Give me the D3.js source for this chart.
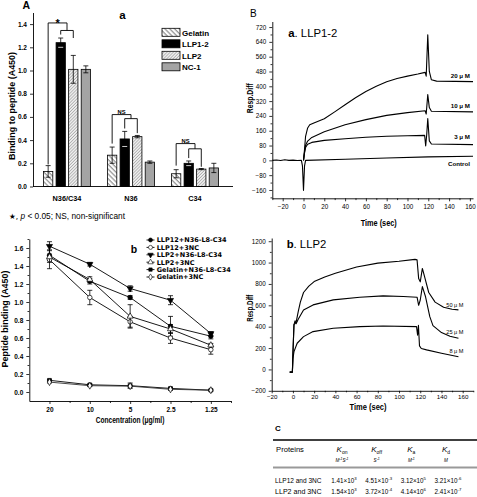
<!DOCTYPE html>
<html><head><meta charset="utf-8">
<script src="https://cdn.jsdelivr.net/npm/d3@7"></script>
<style>
body{margin:0;background:#fff}
svg{display:block}
text{font-family:"Liberation Sans",Arial,sans-serif;fill:#000}
</style></head><body>
<svg id="chart" width="477" height="497"></svg>
<script>
// ---------- Panel A-a data ----------
const barCategories = ["N36/C34","N36","C34"];
const barSeries = ["Gelatin","LLP1-2","LLP2","NC-1"];
const gelatinBar = [0.13,0.27,0.11];
const gelatinErr = [0.05,0.07,0.035];
const llp12Bar = [1.24,0.41,0.20];
const llp12Err = [0.04,0.065,0.02];
const llp2Bar = [1.01,0.43,0.15];
const llp2Err = [0.12,0.01,0.005];
const nc1Bar = [1.01,0.21,0.16];
const nc1Err = [0.03,0.01,0.04];
const barTicks = [0,0.2,0.4,0.6,0.8,1.0,1.2,1.4];
const bracketLabels = ["*","NS","NS"];
const bracketOuter = [1.41,0.62,0.37];
const bracketInner = [1.345,0.585,0.325];
const bracketLegGel = [0.19,0.37,0.18];
const bracketLegLlp12 = [1.31,0.50,0.245];
const bracketLegLlp2 = [1.28,0.46,0.17];

// ---------- Panel A-b data ----------
const concLabels = ["20","10","5","2.5","1.25"];
const bindSeries = ["LLP12+N36-L8-C34","LLP12+3NC","LLP2+N36-L8-C34","LLP2+3NC","Gelatin+N36-L8-C34","Gelatin+3NC"];
const llp12N36 = [1.52,1.23,1.05,0.73,0.62];
const llp12N36Err = [0.06,0.03,0.02,0.11,0.03];
const llp123NC = [1.47,1.05,0.78,0.60,0.47];
const llp123NCErr = [0.03,0.08,0.06,0.06,0.05];
const llp2N36 = [1.62,1.42,1.15,1.02,0.65];
const llp2N36Err = [0.05,0.02,0.03,0.05,0.02];
const llp23NC = [1.50,1.25,0.84,0.70,0.52];
const llp23NCErr = [0.13,0.03,0.13,0.05,0.02];
const gelN36 = [0.13,0.08,0.07,0.04,0.02];
const gelN36Err = [0.01,0.01,0.03,0.01,0.01];
const gel3NC = [0.11,0.07,0.065,0.03,0.02];
const gel3NCErr = [0.01,0.01,0.01,0.01,0.005];
const bindTicks = [0,0.2,0.4,0.6,0.8,1.0,1.2,1.4,1.6];

// ---------- Panel B-a data (time s, response) ----------
const sprATicksY = [-160,-80,0,80,160,240,320,400,480,560,640,720];
const sprTicksX = [-20,0,20,40,60,80,100,120,140,160];
const llp12Labels = ["20 \u03bc M","10 \u03bc M","3 \u03bc M","Control"];
const llp12c20 = [[0,0],[1,60],[2,130],[4,175],[6,192],[10,202],[20,225],[30,262],[40,300],[50,338],[60,372],[70,400],[80,425],[90,442],[100,455],[110,466],[117,475],[118,455],[119.5,678],[121,480],[123,435],[128,428],[163,425]];
const llp12c10 = [[0,0],[1,45],[2,82],[4,104],[8,124],[20,155],[40,192],[60,220],[80,243],[100,258],[117,268],[118,250],[119.5,355],[121,285],[123,265],[163,262]];
const llp12c3 = [[0,0],[1,40],[2,70],[4,87],[8,97],[20,108],[40,117],[60,125],[80,130],[100,133],[116.5,135],[117.5,78],[118.5,140],[119.5,226],[121,105],[123,88],[163,85]];
const llp12Ctrl = [[-30,0],[-26,2],[-22,-1],[-18,3],[-14,0],[-10,1],[-6,-1],[-2,0],[-1,-30],[0,-162],[1,-30],[2,0],[40,6],[80,13],[120,19],[163,22]];

// ---------- Panel B-b data ----------
const sprBTicksY = [-200,0,200,400,600,800,1000,1200];
const llp2Labels = ["50 \u03bc M","25 \u03bc M","8 \u03bc M"];
const llp2c50 = [[-3,-25],[-0.5,-25],[0,150],[1,420],[3,440],[5,540],[7,630],[10,720],[15,780],[20,822],[30,865],[40,900],[60,958],[80,995],[100,1013],[115,1030],[117,1025],[118.5,850],[120,820],[122,945],[124,870],[128,720],[134,630],[142,582],[150,563],[156,557]];
const llp2c25 = [[-3,-25],[-0.5,-25],[0,150],[1,420],[2,455],[3,428],[5,470],[10,557],[19,604],[38,651],[63,676],[85,688],[104,682],[117,676],[118.5,600],[120,650],[122,775],[125,680],[129,494],[132,410],[140,345],[148,310],[156,292]];
const llp2c8 = [[-3,-25],[-0.5,-25],[0,100],[1,167],[4,245],[10,307],[19,354],[38,386],[63,401],[85,407],[116.5,401],[117.5,320],[118.3,412],[119.3,220],[121,196],[126,183],[140,152],[156,118]];

// ---------- Table C data ----------
const tableHeads = ["K","K","K","K"];
const tableSubs = ["on","off","a","d"];
const tableUnits = [["M","-1","S","-1"],["S","-1"],["M","-1"],["M",""]];
const tableProteins = ["LLP12 and 3NC","LLP2  and 3NC"];
const tableKon = [["1.41","3"],["1.54","3"]];
const tableKoff = [["4.51","-3"],["3.72","-4"]];
const tableKa = [["3.12","5"],["4.14","6"]];
const tableKd = [["3.21","-6"],["2.41","-7"]];

const svg = d3.select("#chart");
const FONT = '"Liberation Sans", Arial, sans-serif';

function styleAxis(g, size, bold){
  g.attr("font-family", null).attr("font-size", null);
  g.selectAll("text").attr("font-size", size).attr("font-weight", bold ? "bold" : "normal")
    .attr("fill","#000").style("font-family", FONT);
  g.selectAll("line").attr("stroke","#000").attr("stroke-width",0.8);
  g.selectAll("path.domain").attr("stroke","#000").attr("stroke-width",0.9);
}
function txt(x, y, s, size, opts={}){
  const t = svg.append("text").attr("x",x).attr("y",y).attr("font-size",size).text(s);
  if(opts.bold) t.attr("font-weight","bold");
  if(opts.anchor) t.attr("text-anchor",opts.anchor);
  if(opts.rotate) t.attr("transform",`rotate(-90,${x},${y})`);
  if(opts.len) t.attr("textLength",opts.len).attr("lengthAdjust","spacingAndGlyphs");
  if(opts.family) t.style("font-family",opts.family);
  if(opts.italic) t.attr("font-style","italic");
  return t;
}

// patterns
const defs = svg.append("defs");
const pg = defs.append("pattern").attr("id","hatchGel").attr("patternUnits","userSpaceOnUse")
  .attr("width",3.4).attr("height",3.4).attr("patternTransform","rotate(-45)");
pg.append("rect").attr("width",3.4).attr("height",3.4).attr("fill","#fff");
pg.append("line").attr("x1",1).attr("y1",0).attr("x2",1).attr("y2",3.4).attr("stroke","#555").attr("stroke-width",0.8);
const pl = defs.append("pattern").attr("id","hatchLlp2").attr("patternUnits","userSpaceOnUse")
  .attr("width",2.2).attr("height",2.2).attr("patternTransform","rotate(45)");
pl.append("rect").attr("width",2.2).attr("height",2.2).attr("fill","#f2f2f2");
pl.append("line").attr("x1",1).attr("y1",0).attr("x2",1).attr("y2",2.2).attr("stroke","#9a9a9a").attr("stroke-width",0.7);

// ================= Panel A-a =================
const barVals = [gelatinBar, llp12Bar, llp2Bar, nc1Bar];
const barErrs = [gelatinErr, llp12Err, llp2Err, nc1Err];
const barFills = ["url(#hatchGel)","#000","url(#hatchLlp2)","#a4a4a4"];
const xA = d3.scaleBand().domain(barCategories).range([35,227]);
const xSub = d3.scaleBand().domain(barSeries).range([0,47]).paddingInner(0.26);
const yA = d3.scaleLinear().domain([0,1.5]).range([186.5,12.5]);
const bx = (ci, si) => xA(barCategories[ci]) + xA.bandwidth()/2 - 23.5 + xSub(barSeries[si]);
const bc = (ci, si) => bx(ci, si) + xSub.bandwidth()/2;

barSeries.forEach((s, si) => {
  const g = svg.append("g");
  g.selectAll("rect").data(barVals[si]).join("rect")
    .attr("x",(d,i)=>bx(i,si)).attr("y",d=>yA(d))
    .attr("width",xSub.bandwidth()).attr("height",d=>yA(0)-yA(d))
    .attr("fill",barFills[si]).attr("stroke","#000").attr("stroke-width",0.8);
  const eg = svg.append("g").attr("stroke", "#000").attr("stroke-width",0.8);
  barVals[si].forEach((v,i) => {
    const e = barErrs[si][i], cx = bc(i,si);
    eg.append("line").attr("x1",cx).attr("x2",cx).attr("y1",yA(v+e)).attr("y2",yA(Math.max(0,v-e)));
    eg.append("line").attr("x1",cx-2.5).attr("x2",cx+2.5).attr("y1",yA(v+e)).attr("y2",yA(v+e));
    eg.append("line").attr("x1",cx-2.5).attr("x2",cx+2.5).attr("y1",yA(v-e)).attr("y2",yA(v-e)).attr("stroke", si===1?"#fff":"#000");
  });
});
// axes
const axA = svg.append("g").attr("transform","translate(33,0)")
  .call(d3.axisLeft(yA).tickValues(barTicks).tickFormat(d3.format(".1f")).tickSize(3).tickSizeOuter(0));
styleAxis(axA, 6.5, true);
svg.append("line").attr("x1",33).attr("x2",233).attr("y1",yA(0)).attr("y2",yA(0)).attr("stroke","#000").attr("stroke-width",0.9);
barCategories.forEach((c,i)=> txt(xA(c)+xA.bandwidth()/2, 200.7, c, 7.3, {bold:true, anchor:"middle"}));
// brackets
const brG = svg.append("g").attr("fill","none").attr("stroke","#000").attr("stroke-width",0.9);
barCategories.forEach((c,i)=>{
  const gx = bc(i,0), lx = bc(i,1), px = bc(i,2), mid = (lx+px)/2;
  brG.append("path").attr("d",`M${gx},${yA(bracketLegGel[i])}V${yA(bracketOuter[i])}H${mid}V${yA(bracketInner[i])}`);
  brG.append("path").attr("d",`M${lx},${yA(bracketLegLlp12[i])}V${yA(bracketInner[i])}H${px}V${yA(bracketLegLlp2[i])}`);
  if(bracketLabels[i]==="*") txt((gx+mid)/2, yA(bracketOuter[i])+4.5, "*", 11, {bold:true, anchor:"middle"});
  else txt((gx+mid)/2, yA(bracketOuter[i])-1, bracketLabels[i], 5.8, {bold:true, anchor:"middle"});
});
// legend
const legA = svg.append("g");
barSeries.forEach((s,i)=>{
  const y = 28.3 + i*11.5;
  legA.append("rect").attr("x",162).attr("y",y).attr("width",18).attr("height",8)
    .attr("fill",barFills[i]).attr("stroke","#000").attr("stroke-width",0.8);
  txt(182, y+7.3, s, 8, {bold:true});
});
txt(22.5, 8.5, "A", 10.5, {bold:true});
txt(122.5, 19.3, "a", 11.5, {bold:true, anchor:"middle"});
txt(14.5, 106, "Binding to peptide (A450)", 8.3, {bold:true, anchor:"middle", rotate:true, len:108});
// footnote
const fn = txt(9, 219.3, "", 8.3);
fn.append("tspan").text("\u2605, ").style("font-family","DejaVu Sans").attr("font-size",7.5);
fn.append("tspan").text("p").attr("font-style","italic");
fn.append("tspan").text(" < 0.05;  NS, non-significant");

// ================= Panel A-b =================
const bindVals = [llp12N36, llp123NC, llp2N36, llp23NC, gelN36, gel3NC];
const bindErrs = [llp12N36Err, llp123NCErr, llp2N36Err, llp23NCErr, gelN36Err, gel3NCErr];
const symTypes = [d3.symbolCircle, d3.symbolCircle, d3.symbolTriangle, d3.symbolTriangle, d3.symbolSquare, d3.symbolDiamond];
const symFilled = [true,false,true,false,true,false];
const symRot = [0,0,180,0,0,0];
const symSize = [16,16,16,16,14,14];
const xB = d3.scaleLinear().domain([0.5,5.5]).range([29.3,231]);
const yB = d3.scaleLinear().domain([-0.1,1.7]).range([401,239]);
const lineB = d3.line().x((d,i)=>xB(i+1)).y(d=>yB(d));
bindVals.forEach((vals, si)=>{
  svg.append("path").attr("d",lineB(vals)).attr("fill","none").attr("stroke",si===5 ? "#333" : "#000").attr("stroke-width",0.9);
});
bindVals.forEach((vals, si)=>{
  const eg = svg.append("g").attr("stroke","#000").attr("stroke-width",0.8);
  vals.forEach((v,i)=>{
    const e = bindErrs[si][i], cx = xB(i+1);
    eg.append("line").attr("x1",cx).attr("x2",cx).attr("y1",yB(v+e)).attr("y2",yB(v-e));
    eg.append("line").attr("x1",cx-2.5).attr("x2",cx+2.5).attr("y1",yB(v+e)).attr("y2",yB(v+e));
    eg.append("line").attr("x1",cx-2.5).attr("x2",cx+2.5).attr("y1",yB(v-e)).attr("y2",yB(v-e));
  });
  svg.append("g").selectAll("path").data(vals).join("path")
    .attr("d", d3.symbol().type(symTypes[si]).size(symSize[si]))
    .attr("transform",(d,i)=>`translate(${xB(i+1)},${yB(d)}) rotate(${symRot[si]})`)
    .attr("fill", symFilled[si] ? "#000" : "#fff").attr("stroke","#000").attr("stroke-width",0.7);
});
const axBy = svg.append("g").attr("transform","translate(29.3,0)")
  .call(d3.axisLeft(yB).tickValues(bindTicks).tickFormat(d3.format(".1f")).tickSize(3).tickSizeOuter(0));
styleAxis(axBy, 6.5, true);
const axBym = svg.append("g").attr("transform","translate(29.3,0)")
  .call(d3.axisLeft(yB).tickValues(d3.range(0.1,1.71,0.2)).tickFormat("").tickSize(1.8).tickSizeOuter(0));
styleAxis(axBym, 6, false); axBym.select(".domain").remove();
const axBx = svg.append("g").attr("transform",`translate(0,${yB(-0.1)})`)
  .call(d3.axisBottom(xB).tickValues([1,2,3,4,5]).tickFormat(i=>concLabels[i-1]).tickSize(3).tickSizeOuter(0));
styleAxis(axBx, 6.5, true);
const axBxm = svg.append("g").attr("transform",`translate(0,${yB(-0.1)})`)
  .call(d3.axisBottom(xB).tickValues([1.5,2.5,3.5,4.5,5.5]).tickFormat("").tickSize(2).tickSizeOuter(0));
styleAxis(axBxm, 6, false); axBxm.select(".domain").remove();
txt(130, 422.7, "Concentration (\u03bcg/ml)", 8.2, {bold:true, anchor:"middle", len:68.7});
txt(7.8, 319, "Peptide binding (A450)", 8.3, {bold:true, anchor:"middle", rotate:true, len:97});
txt(134, 252.7, "b", 10.5, {bold:true, anchor:"middle"});
// legend
bindSeries.forEach((s,i)=>{
  const y = 240 + i*7.4;
  svg.append("line").attr("x1",146.5).attr("x2",154.5).attr("y1",y).attr("y2",y).attr("stroke","#000").attr("stroke-width",0.9);
  svg.append("path").attr("d", d3.symbol().type(symTypes[i]).size(symSize[i]*0.8))
    .attr("transform",`translate(150.5,${y}) rotate(${symRot[i]})`)
    .attr("fill", symFilled[i] ? "#000" : "#fff").attr("stroke","#000").attr("stroke-width",0.6);
  txt(156.7, y+2.3, s, 6.5, {bold:true, family:'"DejaVu Sans", sans-serif'});
});

// ================= Panel B-a =================
const xC = d3.scaleLinear().domain([-30,163]).range([272.3,473]);
const yC = d3.scaleLinear().domain([-205,750]).range([198.3,21.5]);
const lineC = d3.line().x(d=>xC(d[0])).y(d=>yC(d[1]));
[llp12c20, llp12c10, llp12c3, llp12Ctrl].forEach(c=>{
  svg.append("path").attr("d",lineC(c)).attr("fill","none").attr("stroke","#000").attr("stroke-width",1.1).attr("stroke-linejoin","round");
});
const axCy = svg.append("g").attr("transform",`translate(${xC(-30)},0)`)
  .call(d3.axisLeft(yC).tickValues(sprATicksY).tickFormat(d3.format("d")).tickSize(3).tickSizeOuter(0));
styleAxis(axCy, 6.3, false);
const axCym = svg.append("g").attr("transform",`translate(${xC(-30)},0)`)
  .call(d3.axisLeft(yC).tickValues(d3.range(-200,741,80)).tickFormat("").tickSize(1.8).tickSizeOuter(0));
styleAxis(axCym, 6, false); axCym.select(".domain").remove();
const axCx = svg.append("g").attr("transform",`translate(0,${yC(-205)})`)
  .call(d3.axisBottom(xC).tickValues(sprTicksX).tickFormat(d3.format("d")).tickSize(3).tickSizeOuter(0));
styleAxis(axCx, 6.3, false);
const axCxm = svg.append("g").attr("transform",`translate(0,${yC(-205)})`)
  .call(d3.axisBottom(xC).tickValues(d3.range(-30,161,20)).tickFormat("").tickSize(1.8).tickSizeOuter(0));
styleAxis(axCxm, 6, false); axCxm.select(".domain").remove();
txt(378.7, 225.5, "Time (sec)", 8.3, {bold:true, anchor:"middle", len:36});
txt(253.3, 98.3, "Resp.Diff", 8.3, {bold:true, anchor:"middle", rotate:true, len:30});
txt(250, 17.3, "B", 10, {bold:false});
const ta = txt(288.3, 37.3, "", 11.3);
ta.append("tspan").text("a").attr("font-weight","bold");
ta.append("tspan").text(". LLP1-2");
[[77.7],[107.7],[139.3],[166]].forEach((p,i)=> txt(470, p[0], llp12Labels[i], 6.2, {bold:true, anchor:"end"}));

// ================= Panel B-b =================
const xD = d3.scaleLinear().domain([-20,170]).range([271.7,473.3]);
const yD = d3.scaleLinear().domain([-200,1230]).range([390.8,238]);
const lineD = d3.line().x(d=>xD(d[0])).y(d=>yD(d[1]));
[llp2c50, llp2c25, llp2c8].forEach(c=>{
  svg.append("path").attr("d",lineD(c)).attr("fill","none").attr("stroke","#000").attr("stroke-width",1.1).attr("stroke-linejoin","round");
});
const axDy = svg.append("g").attr("transform",`translate(${xD(-20)},0)`)
  .call(d3.axisLeft(yD).tickValues(sprBTicksY).tickFormat(d3.format("d")).tickSize(3).tickSizeOuter(0));
styleAxis(axDy, 6.3, false);
const axDym = svg.append("g").attr("transform",`translate(${xD(-20)},0)`)
  .call(d3.axisLeft(yD).tickValues(d3.range(-100,1201,200)).tickFormat("").tickSize(1.8).tickSizeOuter(0));
styleAxis(axDym, 6, false); axDym.select(".domain").remove();
const axDx = svg.append("g").attr("transform",`translate(0,${yD(-200)})`)
  .call(d3.axisBottom(xD).tickValues(sprTicksX).tickFormat(d3.format("d")).tickSize(2.5).tickPadding(1).tickSizeOuter(0));
styleAxis(axDx, 6.2, false);
const axDxm = svg.append("g").attr("transform",`translate(0,${yD(-200)})`)
  .call(d3.axisBottom(xD).tickValues(d3.range(-10,171,20)).tickFormat("").tickSize(1.5).tickSizeOuter(0));
styleAxis(axDxm, 6, false); axDxm.select(".domain").remove();
txt(368, 410, "Time (sec)", 8.2, {bold:true, anchor:"middle", len:37});
txt(253.3, 308.3, "Resp.Diff", 8.3, {bold:true, anchor:"middle", rotate:true, len:27});
const tb = txt(286.7, 248.3, "", 11.3);
tb.append("tspan").text("b").attr("font-weight","bold");
tb.append("tspan").text(". LLP2");
[307.3, 334, 352.7].forEach((y,i)=> txt(463.5, y, llp2Labels[i], 5.6, {anchor:"end"}));

// ================= Table C =================
txt(275, 431, "C", 8, {bold:true});
svg.append("line").attr("x1",273).attr("x2",477).attr("y1",440).attr("y2",440).attr("stroke","#000").attr("stroke-width",1.6);
svg.append("line").attr("x1",273).attr("x2",477).attr("y1",467.5).attr("y2",467.5).attr("stroke","#999").attr("stroke-width",2);
const colX = d3.scalePoint().domain([0,1,2,3]).range([342,446]);
txt(290, 452, "Proteins", 7.6, {anchor:"middle"});
tableHeads.forEach((h,i)=>{
  const t = txt(colX(i), 452, "", 8, {anchor:"middle"});
  t.append("tspan").text(h).attr("font-style","italic");
  t.append("tspan").text(tableSubs[i]).attr("font-size",5).attr("dy",1.6);
  const u = txt(colX(i), 461.5, "", 4.6, {anchor:"middle", italic:true});
  const parts = tableUnits[i];
  for(let k=0;k<parts.length;k+=2){
    u.append("tspan").text(parts[k]).attr("dy", k===0?0:1.4);
    if(parts[k+1]) u.append("tspan").text(parts[k+1]).attr("font-size",3.4).attr("dy",-1.4);
  }
});
const cols = [tableKon, tableKoff, tableKa, tableKd];
tableProteins.forEach((p,r)=>{
  const y = 483 + r*11;
  txt(275, y, p, 6.3, {len:46.5});
  cols.forEach((col,ci)=>{
    const t = txt(colX(ci)+2, y, "", 6.3, {anchor:"middle"});
    t.append("tspan").text(col[r][0] + "\u00d710");
    t.append("tspan").text(col[r][1]).attr("font-size",4.3).attr("dy",-2.6);
  });
});
</script>
</body></html>
